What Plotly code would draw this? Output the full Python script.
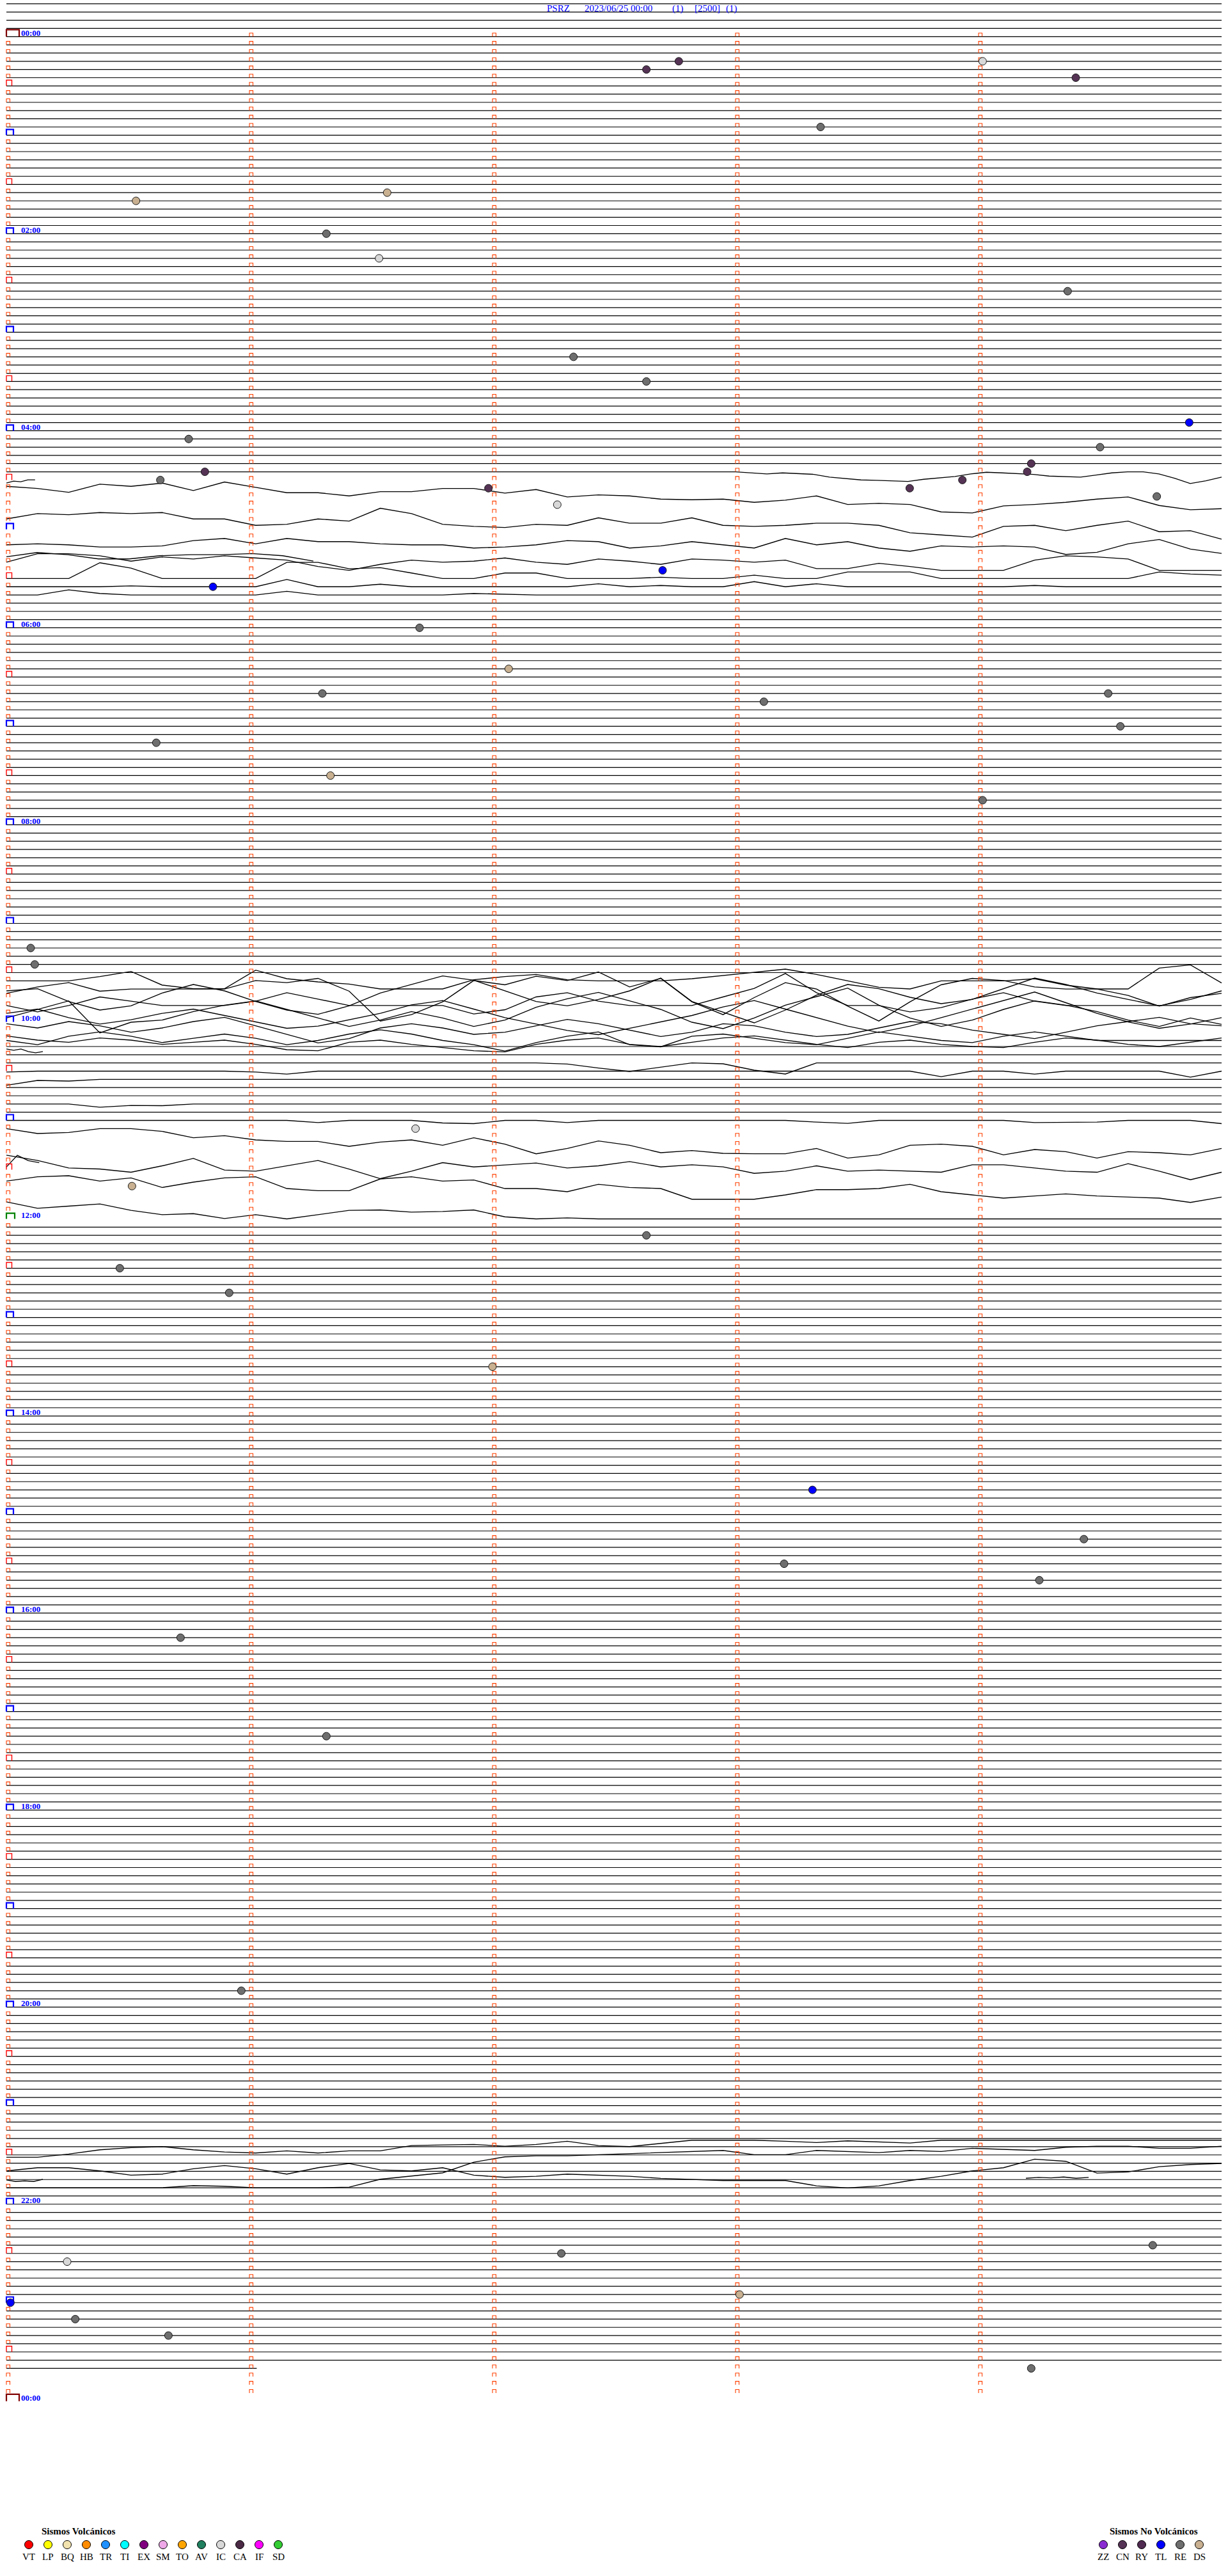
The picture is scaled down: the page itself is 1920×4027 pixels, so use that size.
import plotly.graph_objects as go

# ---------------- layout constants (pixel geometry of the helicorder) ----------------
W, H = 1920, 4027
ROW0_PX, ROW_PX = 57.3, 12.835      # y pixel of row 0 baseline, pixels per row
X0_PX, MIN_PX = 10.0, 380.0         # x pixel of minute 0, pixels per minute
AMP_PER_ROW = 38.5                  # amplitude units per row spacing
FONT = "Liberation Serif"

# ---------------- data ----------------
STATION = "PSRZ"
START_TIME = "2023/06/25 00:00"
TITLE_FIELDS = ["(1)", "[2500]", "(1)"]
MINUTES_PER_ROW = 5
N_ROWS = 288                 # 24 h of 5-minute rows
FIRST_LINE_ROW = -4          # extra flat lines above 00:00
LAST_LINE_ROW = 284          # last row with data
MINUTE_COLUMNS = [0, 1, 2, 3, 4]

VOLC_TYPES = ["VT", "LP", "BQ", "HB", "TR", "TI", "EX", "SM", "TO", "AV", "IC", "CA", "IF", "SD"]
VOLC_COLORS = ["#FF0000", "#FFFF00", "#F2E2AE", "#FF8C00", "#1E90FF", "#00FFFF", "#800080",
               "#EEA8E8", "#FFA500", "#1F7F5F", "#D8D8D8", "#4A2A45", "#FF00FF", "#33CC33"]
NONVOLC_TYPES = ["ZZ", "CN", "RY", "TL", "RE", "DS"]
NONVOLC_COLORS = ["#8A2BD2", "#553355", "#502A50", "#0000FF", "#6E6E6E", "#C8B090"]

EVENT_TIMES = ["00:17:46", "00:22:38", "00:19:01", "00:29:24", "00:58:21", "01:36:34", "01:40:32",
               "02:01:19", "02:16:32", "02:39:22", "03:17:20", "03:32:38", "03:59:52", "04:05:45",
               "04:14:30", "04:24:13", "04:25:49", "04:29:12", "04:30:38", "04:33:56", "04:36:59",
               "04:38:43", "04:44:44", "04:47:16", "05:27:42", "05:35:51", "06:01:42", "06:27:04",
               "06:41:18", "06:44:32", "06:48:07", "07:04:35", "07:10:37", "07:31:20", "07:49:01",
               "09:15:06", "09:25:07", "11:06:41", "11:40:31", "12:12:38", "12:30:28", "12:45:55",
               "13:32:00", "14:48:19", "15:19:26", "15:33:12", "15:44:15", "16:15:43", "17:16:19",
               "19:50:58", "22:29:43", "22:32:17", "22:35:15", "22:58:01", "23:00:01", "23:10:17",
               "23:20:40", "23:44:13"]
EVENT_TYPES = ["CN", "CN", "IC", "CN", "RE", "DS", "DS", "RE", "IC", "RE", "RE", "RE", "TL", "RE",
               "RE", "CN", "CN", "CN", "RE", "CN", "CN", "CN", "RE", "IC", "TL", "TL", "RE", "DS",
               "RE", "RE", "RE", "RE", "RE", "DS", "RE", "RE", "RE", "IC", "DS", "RE", "RE", "RE",
               "DS", "TL", "RE", "RE", "RE", "RE", "RE", "RE", "RE", "RE", "IC", "DS", "TL", "RE",
               "RE", "RE"]

# rows without a plain flat line, and rows with only part of a flat line (minutes)
NO_FLAT_ROWS = list(range(54, 69)) + list(range(115, 123)) + [125, 126, 127, 130, 132] + list(range(133, 145))
PARTIAL_FLAT = {53: (0.0, 3.0), 284: (0.0, 1.03)}

# seismic traces: amplitudes (positive = up), evenly spaced between start and end minute
TR_A53 = [0, -5, -10, -5, -8, -12, -25, -32, -38, -40, -43, -45, -35, -28, -22, -10, -2, -5, -8, -12,
          -20, -22, -25, -15, -5, 0, 0, -10, -30, -55, -42, -25]
TR_A54 = [-14, -5, -8, 1, 1]
TR_A55 = [9, -1, -19, 19, 9, 24, -11, 29, 4, -21, -21, -36, -16, -16, -1, -1, -23, -6, -41, -31,
          -36, -51, -54, -51, -66, -56, -36, -76, -71, -76, -111, -116, -83, -76, -66, -51, -41, -81, -101, -96]
TR_A59 = [10, 35, 30, 40, 35, 40, 10, 10, -20, -15, 10, 0, 60, 35, -15, -25, -30, -15, -20, 15,
          -10, -10, 15, -20, -25, -20, -10, -10, -20, -55, -65, -75, -25, -20, -45, -20, 0, -50, -45, -85]
TR_A62 = [4, 9, 4, -6, -6, -1, 24, 34, 9, 34, 19, 19, 9, 4, 4, -11, -6, 4, 24, 19,
          -11, -1, 19, 4, -11, 34, 4, 19, -11, -26, -1, -6, -1, -6, -41, -31, 9, 29, -16, -36]
TR_A64 = [25, 45, 35, 15, 15, 30, 35, 35, 40, 30, 5]
TR_A65 = [38, 78, 78, 68, 43, 63, 53, 68, 58, 48, 18, 0, 28, 48, 38, 43, 58, 38, 28, 53,
          43, 28, 53, 48, 38, 48, 8, 8, 33, 18, 0, 0, 0, 48, 68, 63, 53, 0, 0, 0]
TR_A66 = [0, 0, 0, 74, 49, 0, 0, 0, 0, 76, 76, 46, 51, 26, 0, 0, 26, 26, 0, 0,
          0, 6, 0, 0, 16, 0, 0, 31, 31, 31, 0, 0, 0, 0, 0, 0, 0, 31, 21, 16]
TR_A67 = [0, 0, 0, 0, 4, 0, 0, 0, 0, 34, 0, 0, 12, 0, 0, 0, 0, 0, 0, 14,
          0, 6, 0, 0, 24, 0, 14, 0, 0, 0, 0, 0, 0, 6, 0, 0, 0, 0, 0, 0]
TR_A68 = [0, 0, 24, 7, 0, 0, 0, 0, 0, 17, 0, 0, 0, 0, 0, 7, 4, 0, 0, 0,
          0, 0, 0, 0, 0, 0, 0, 0, 0, 0, 0, 0, 0, 0, 0, 0, 0, 0, 0, 0]

TR_B115 = [0, 0, 0, 20, 44, -20, -37, -37, 50, 10, -5, -15, -38, -38, -38, 5, 20, 30, 5, 0,
           0, 0, 10, 25, 40, 55, 30, 0, -30, -38, 0, 0, 0, 10, -20, -38, -38, 60, 75, -10]
TR_B116 = [-20, 10, 30, -10, 0, 0, 0, 0, 40, 30, 50, -10, -150, -120, -60, 40, 20, 60, 40, 80,
           10, 50, -60, -120, -40, 30, 0, -80, -150, -60, 20, 50, 40, 10, 0, 0, -30, -80, -40, -20]
TR_B117 = [30, 40, -20, -60, -40, 20, 60, 30, -20, -60, -80, -40, 20, 60, 100, 80, 30, -20, -40, -10,
           30, 90, -20, -70, -120, -60, 10, 60, 40, 0, -30, -10, 40, 90, 60, 20, -10, -40, -10, 30]
TR_B118 = [0, -30, 0, 40, 20, 0, 0, 0, 20, 60, 30, 0, 0, 0, 0, -40, -20, 40, 60, 20,
           0, 0, 0, 40, 80, 150, 60, 0, 0, -30, -10, 30, 60, 20, 0, 0, 0, 0, 0, 0]
TR_B119 = [-20, 20, 60, -90, -40, -30, 10, 40, 60, 20, -20, -60, -30, 10, -20, -60, -30, 30, 70, 100,
           60, 20, -40, -70, -20, 40, 80, 120, 40, -20, -60, -30, 20, 60, 40, 10, -30, -60, -20, -50]
TR_B120 = [40, 60, 20, -10, 10, 40, 60, 30, 0, -30, -20, 10, 40, 80, 100, 60, 20, -10, -40, -60,
           -30, 0, 30, 70, 100, 60, 20, -20, -50, -20, 20, 60, 100, 140, 90, 40, 0, -30, -10, 20]
TR_B121 = [30, 10, 40, 20, -10, 10, 40, 60, 20, -20, -60, -40, 10, 30, 10, -20, -10, 20, 50, 30,
           0, -30, -10, 30, 20, -10, -30, -20, 10, 40, 30, 0, -20, -40, -10, 20, 40, 60, 30, 20]
TR_B122 = [-10, -30, 10, 30, 10, -20, 0, 20, 0, -30, -10, 20, 40, 20, -10, -30, -60, -20, 10, 30,
           -30, -40, 10, 20, 0, -20, -30, 0, 30, 10, -10, -20, 10, 30, 10, -10, -10, -10, -10, -10]
TR_B123 = [50, 30, 20, 40, 30, 10, 20, 30, 10, -15, -20, 20, 30, 10, -5, -20, -25, 10, 30, 40,
           10, 0, 20, 40, 50, 30, 10, -5, 20, 30, 10, 0, -5, 20, 40, 30, 10, 0, 20, 40]
TR_B124 = [27, 21, 27, 15, 9, 15]
TR_B125 = [0] * 18 + [-5, -24, -40, -20, 0, -4, -34, -52] + [0] * 14
TR_B126 = [-4, 0, 0, 0, 0, 0, 0, 0, -4, -14] + [0] * 20 + [-26, 0, 0, -14, 0, 0, 0, 0, -28, 0]
TR_B127 = [-28, -5, -8] + [0] * 37
TR_B130 = [0, 0, 0, -15, -7, -8] + [0] * 34
TR_B132 = [0] * 10 + [-10, 0, 0, 0, -12, -15, 0, 0, -10] + [0] * 7 + [-8, -14] + [0] * 5 + [-10, -8, -8, 0, 0, 0, -15]
TR_B133 = [0, -23, -18, 0, 0, -13, -43, -33, -53, -60, -60, -83, -63, -53, -78, -43, -73, -118, -93, -58,
           -78, -113, -103, -116, -118, -118, -93, -138, -123, -78, -73, -83, -123, -98, -108, -138, -108, -113, -123, -93]
TR_B136 = [-9, -34, -69, -74, -89, -59, -24, -79, -84, -59, -34, -74, -119, -84, -44, -64, -54, -46, -69, -59,
           -39, -64, -54, -64, -94, -84, -59, -84, -79, -84, -89, -54, -54, -69, -84, -89, -49, -84, -124, -89]
TR_B137 = [-26, 29, 4, -6]
TR_B139 = [-15, 5, 10, -15, 0, -45, -20, 0, 5, -50, -60, -60, -5, 5, -15, -10, -50, -50, -65, -30,
           -45, -50, -100, -100, -100, -80, -55, -55, -50, -30, -65, -80, -95, -85, -75, -85, -90, -95, -115, -90]
TR_B144 = [80, 50, 60, 70, 40, 20, 25, 2, 20, 0, 20, 40, 42, 32, 35, 42, 10, 0, 5] + [0] * 21

TR_C258 = [-11, -11, 4, 24, 34, 39, 24, 14, 9, 19, 9, 19, 19, 44, 47, 49, 41, 49, 64, 44,
           39, 54, 69, 69, 69, 64, 58, 66, 60, 56] + [69] * 10
TR_C260 = [2, 17, 17, 2, -18, -13, 12, 27, 12, -13, 17, 37, 7, 2, 17, -18, -28, -23, -13, -18,
           -23, -33, -38, -43, -43, -43, -68, -78, -68, -43, -23, 2, 17, 57, 47, -8, -3, 22, 32, 37]
TR_C261A = [-2, -9, -6, -9, 1]
TR_C261B = [6, 10, 8, 12, 6, 10]
TR_C262 = [0, 0, 0, 0, 0, 0, 10, 7, 0, 0, 0, 3, 40, 55, 70, 120, 145, 150, 150, 155,
           160, 165, 170, 175, 155, 155, 175, 170, 165, 175, 170, 185, 180, 175, 190, 195, 195, 185, 185, 195]

TRACES = [  # (row, start minute, end minute, amplitudes)
    (53, 3.0, 5.0, TR_A53), (54, 0.0, 0.118, TR_A54), (55, 0.0, 5.0, TR_A55),
    (59, 0.0, 5.0, TR_A59), (62, 0.0, 5.0, TR_A62), (64, 0.0, 1.263, TR_A64),
    (65, 0.0, 5.0, TR_A65), (66, 0.0, 5.0, TR_A66), (67, 0.0, 5.0, TR_A67), (68, 0.0, 5.0, TR_A68),
    (115, 0.0, 5.0, TR_B115), (116, 0.0, 5.0, TR_B116), (117, 0.0, 5.0, TR_B117),
    (118, 0.0, 5.0, TR_B118), (119, 0.0, 5.0, TR_B119), (120, 0.0, 5.0, TR_B120),
    (121, 0.0, 5.0, TR_B121), (122, 0.0, 5.0, TR_B122), (123, 0.0, 5.0, TR_B123),
    (124, 0.0, 0.15, TR_B124), (125, 0.0, 5.0, TR_B125), (126, 0.0, 5.0, TR_B126),
    (127, 0.0, 5.0, TR_B127), (130, 0.0, 5.0, TR_B130), (132, 0.0, 5.0, TR_B132),
    (133, 0.0, 5.0, TR_B133), (136, 0.0, 5.0, TR_B136), (137, 0.0, 0.135, TR_B137),
    (139, 0.0, 5.0, TR_B139), (144, 0.0, 5.0, TR_B144),
    (258, 0.0, 5.0, TR_C258), (260, 0.0, 5.0, TR_C260), (261, 0.0, 0.15, TR_C261A),
    (261, 4.195, 4.453, TR_C261B), (262, 0.0, 5.0, TR_C262),
]

# ---------------- axes mapping ----------------
X_RANGE = [-X0_PX / MIN_PX, (W - X0_PX) / MIN_PX]
Y_RANGE = [(H - ROW0_PX) / ROW_PX, -ROW0_PX / ROW_PX]


def ry(row, amp=0.0):
    return row - amp / AMP_PER_ROW


fig = go.Figure()

# flat lines
fx, fy = [], []
for r in range(FIRST_LINE_ROW, LAST_LINE_ROW + 1):
    if r in NO_FLAT_ROWS:
        continue
    a, b = PARTIAL_FLAT.get(r, (0.0, float(MINUTES_PER_ROW)))
    fx += [a, b, None]
    fy += [r, r, None]
fig.add_trace(go.Scatter(x=fx, y=fy, mode="lines", line=dict(color="black", width=1.2),
                         hoverinfo="skip", showlegend=False))

# seismic traces
tx, ty = [], []
for row, m0, m1, amps in TRACES:
    n = len(amps)
    for i, a in enumerate(amps):
        tx.append(m0 + i * (m1 - m0) / (n - 1))
        ty.append(ry(row, a))
    tx.append(None)
    ty.append(None)
fig.add_trace(go.Scatter(x=tx, y=ty, mode="lines", line=dict(color="black", width=1.35),
                         hoverinfo="skip", showlegend=False))


# minute tick boxes
def box(xs, ys, col, row, wpx, hpx):
    x0 = col
    x1 = col + wpx / MIN_PX
    yt = row - hpx / ROW_PX
    xs += [x0, x0, x1, x1, None]
    ys += [row, yt, yt, row, None]


groups = {"small": ([], []), "half": ([], []), "hour": ([], []), "noon": ([], []), "day": ([], [])}
for r in range(0, N_ROWS + 1):
    for c in MINUTE_COLUMNS:
        if c == 0:
            if r % N_ROWS == 0:
                box(*groups["day"], c, r, 20, 11)
            elif r == N_ROWS // 2:
                box(*groups["noon"], c, r, 13, 9)
            elif r % 12 == 0:
                box(*groups["hour"], c, r, 11, 9)
            elif r % 12 == 6:
                box(*groups["half"], c, r, 8.5, 9)
            else:
                box(*groups["small"], c, r, 5.5, 5.5)
        elif r < N_ROWS:
            box(*groups["small"], c, r, 5.5, 5.5)

styles = {"small": ("#FF4000", 1.1), "half": ("#FF0000", 1.4), "hour": ("#0000FF", 2.2),
          "noon": ("#008000", 2.2), "day": ("#800000", 2.2)}
for k, (xs, ys) in groups.items():
    col, wd = styles[k]
    fig.add_trace(go.Scatter(x=xs, y=ys, mode="lines", line=dict(color=col, width=wd),
                             hoverinfo="skip", showlegend=False))

# events
type_color = dict(zip(VOLC_TYPES, VOLC_COLORS))
type_color.update(dict(zip(NONVOLC_TYPES, NONVOLC_COLORS)))
ex, ey, ec = [], [], []
for t, ty_ in zip(EVENT_TIMES, EVENT_TYPES):
    h, m, s = (int(v) for v in t.split(":"))
    minutes = h * 60 + m + s / 60.0
    row = int(minutes // MINUTES_PER_ROW)
    ex.append(minutes - row * MINUTES_PER_ROW)
    ey.append(row)
    ec.append(type_color[ty_])
fig.add_trace(go.Scatter(x=ex, y=ey, mode="markers",
                         marker=dict(size=12, color=ec, line=dict(color="#1a1a1a", width=1)),
                         hoverinfo="skip", showlegend=False))

# legends (pixel overlay axis)
LEG_Y = 3978
fig.add_trace(go.Scatter(x=[45 + 30 * i for i in range(len(VOLC_TYPES))], y=[LEG_Y] * len(VOLC_TYPES),
                         xaxis="x2", yaxis="y2", mode="markers",
                         marker=dict(size=13, color=VOLC_COLORS, line=dict(color="black", width=1)),
                         hoverinfo="skip", showlegend=False))
fig.add_trace(go.Scatter(x=[1725 + 30 * i for i in range(len(NONVOLC_TYPES))], y=[LEG_Y] * len(NONVOLC_TYPES),
                         xaxis="x2", yaxis="y2", mode="markers",
                         marker=dict(size=13, color=NONVOLC_COLORS, line=dict(color="black", width=1)),
                         hoverinfo="skip", showlegend=False))

ann = []
for i, lab in enumerate(VOLC_TYPES):
    ann.append(dict(x=45 + 30 * i, y=3997, xref="x2", yref="y2", text=lab, showarrow=False,
                    font=dict(family=FONT, size=15, color="black"), xanchor="center", yanchor="middle"))
for i, lab in enumerate(NONVOLC_TYPES):
    ann.append(dict(x=1725 + 30 * i, y=3997, xref="x2", yref="y2", text=lab, showarrow=False,
                    font=dict(family=FONT, size=15, color="black"), xanchor="center", yanchor="middle"))
ann.append(dict(x=63, y=3957, xref="x2", yref="y2", text="<b>Sismos Volcánicos</b>", showarrow=False,
                font=dict(family=FONT, size=15, color="black"), xanchor="left", yanchor="middle"))
ann.append(dict(x=1733, y=3957, xref="x2", yref="y2", text="<b>Sismos No Volcánicos</b>", showarrow=False,
                font=dict(family=FONT, size=15, color="black"), xanchor="left", yanchor="middle"))

# title pieces
title_parts = [STATION, START_TIME] + TITLE_FIELDS
title_x = [853, 912, 1049, 1084, 1133]
for txt, px in zip(title_parts, title_x):
    ann.append(dict(x=px, y=13, xref="x2", yref="y2", text=txt, showarrow=False,
                    font=dict(family=FONT, size=15, color="#0000FF"), xanchor="left", yanchor="middle"))

# hour labels every 2 hours
for r in range(0, N_ROWS + 1, 24):
    hh = (r * MINUTES_PER_ROW // 60) % 24
    ann.append(dict(x=22 / MIN_PX, y=r - 0.45, xref="x", yref="y", text=f"<b>{hh:02d}:00</b>",
                    showarrow=False, font=dict(family=FONT, size=13, color="#0000FF"),
                    xanchor="left", yanchor="middle", borderpad=0))

fig.update_layout(
    width=W, height=H, margin=dict(l=0, r=0, t=0, b=0, pad=0),
    paper_bgcolor="white", plot_bgcolor="white",
    xaxis=dict(range=X_RANGE, visible=False, showgrid=False, zeroline=False, fixedrange=True),
    yaxis=dict(range=Y_RANGE, visible=False, showgrid=False, zeroline=False, fixedrange=True),
    xaxis2=dict(range=[0, W], overlaying="x", visible=False, showgrid=False, zeroline=False),
    yaxis2=dict(range=[H, 0], overlaying="y", visible=False, showgrid=False, zeroline=False),
    annotations=ann, showlegend=False,
)

fig.write_html("out.html", config={"displayModeBar": False},
               post_script="document.body.style.margin='0';document.body.style.overflow='hidden';")
